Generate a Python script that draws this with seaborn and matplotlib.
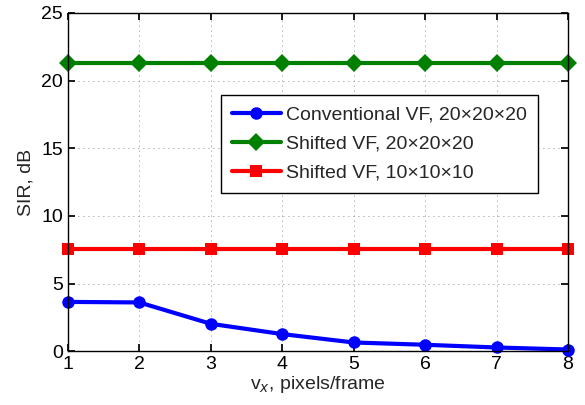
import numpy as np
import pandas as pd
import seaborn as sns
import matplotlib
matplotlib.use("Agg")
import matplotlib.pyplot as plt

vx = [1, 2, 3, 4, 5, 6, 7, 8]
conventional_20 = [3.64, 3.60, 2.02, 1.26, 0.64, 0.47, 0.27, 0.12]
shifted_20 = [21.28] * 8
shifted_10 = [7.55] * 8
labels = ["Conventional VF, 20\u00d720\u00d720",
          "Shifted VF, 20\u00d720\u00d720",
          "Shifted VF, 10\u00d710\u00d710"]

sns.set_theme(style="ticks")
plt.rcParams['font.family'] = ['Liberation Sans', 'DejaVu Sans']
plt.rcParams['xtick.direction'] = 'in'
plt.rcParams['ytick.direction'] = 'in'

df = pd.DataFrame({"vx": vx * 3,
                   "sir": conventional_20 + shifted_20 + shifted_10,
                   "series": [labels[0]] * 8 + [labels[1]] * 8 + [labels[2]] * 8})

fig = plt.figure(figsize=(5.85, 4.05), dpi=100)
ax = fig.add_axes([0.116, 0.133, 0.855, 0.835])

colors = {labels[0]: "#0000ff", labels[1]: "#008000", labels[2]: "#ff0000"}
markers = {labels[0]: "o", labels[1]: "D", labels[2]: "s"}
sns.lineplot(data=df, x="vx", y="sir", hue="series", style="series",
             palette=colors, markers=markers, dashes=False, linewidth=3,
             markersize=9, markeredgewidth=0, ax=ax, clip_on=False)

ax.set_xlim(1, 8)
ax.set_ylim(0, 25)
ax.set_xticks(vx)
ax.set_yticks([0, 5, 10, 15, 20, 25])
ax.grid(True, linestyle=(0, (1, 5)), color="#666666", linewidth=0.6)
for s in ax.spines.values():
    s.set_visible(True)
    s.set_color("black")
    s.set_linewidth(1.0)
ax.tick_params(labelsize=14, colors="black", length=5, top=True, right=True)
ax.set_xlabel("v$_x$, pixels/frame", fontsize=14, labelpad=1)
ax.set_ylabel("SIR, dB", fontsize=14, labelpad=5)

leg = ax.legend(loc="upper right", bbox_to_anchor=(0.94, 0.757), fontsize=14,
                borderaxespad=0, frameon=True, fancybox=False, edgecolor="black",
                handlelength=2.5, borderpad=0.55, labelspacing=0.6,
                handletextpad=0.3)
leg.get_frame().set_linewidth(1.0)
leg.get_frame().set_alpha(1)

fig.savefig("out.png", dpi=100)
